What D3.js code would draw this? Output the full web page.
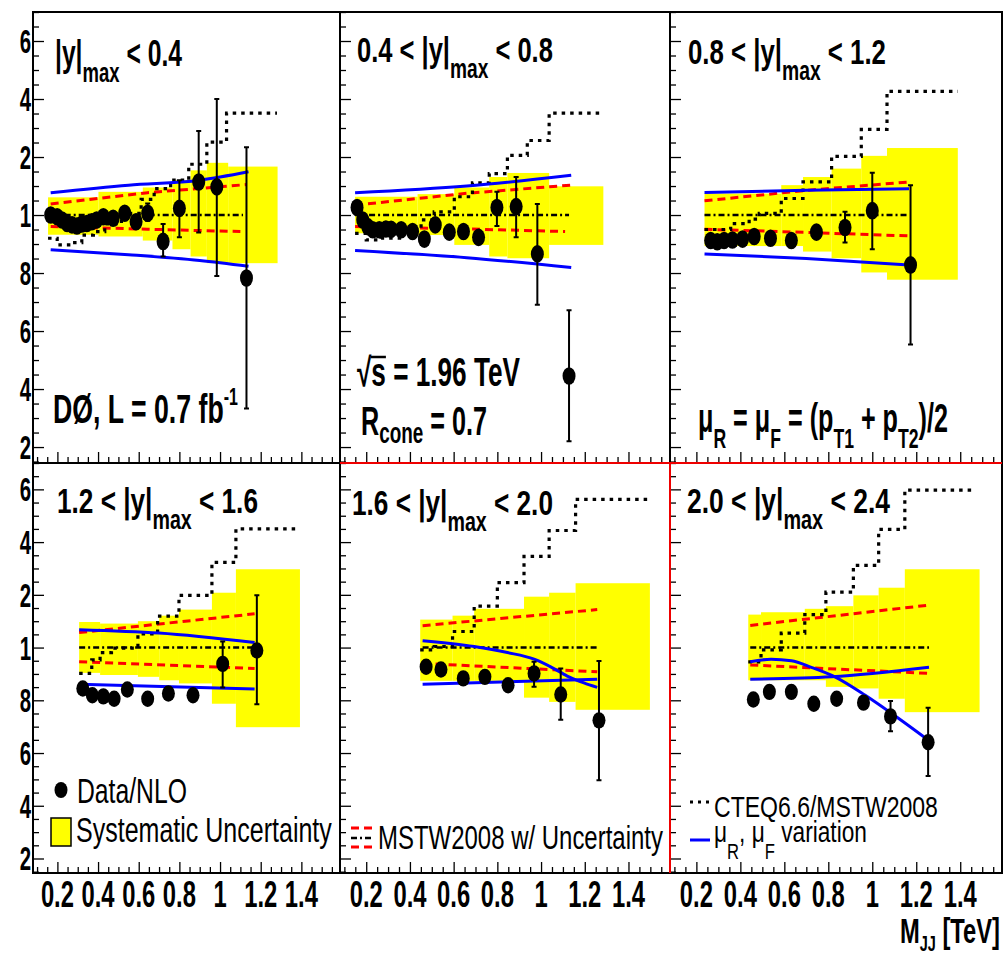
<!DOCTYPE html>
<html>
<head>
<meta charset="utf-8">
<script src="https://cdn.jsdelivr.net/npm/d3@7"></script>
<style>
body { margin: 0; background: #fff; }
svg { display: block; }
text { white-space: pre; }
</style>
</head>
<body>
<svg width="1005" height="955"></svg>
<script>
// ---- values ----
// points: [mass, data/NLO, errLow, errHigh] (no err = bar hidden under marker)
var points1 = [[0.167,1.000],[0.199,0.994],[0.223,0.983],[0.248,0.971],[0.272,0.966],[0.296,0.962],[0.320,0.969],[0.345,0.971],[0.369,0.977],[0.393,0.983],[0.426,0.994],[0.474,0.989],[0.531,1.006],[0.587,0.977],[0.644,1.006,0.98,1.04],[0.72,0.909,0.857,0.969],[0.80,1.023,0.923,1.12],[0.895,1.114,0.94,1.29],[0.984,1.097,0.79,1.40],[1.13,0.783,0.333,1.234]];
var points2 = [[0.158,1.026],[0.184,0.983],[0.207,0.96],[0.23,0.949],[0.26,0.949],[0.29,0.952],[0.314,0.951],[0.36,0.949],[0.412,0.943],[0.466,0.917],[0.516,0.966],[0.58,0.941],[0.645,0.943],[0.714,0.923],[0.798,1.026,0.962,1.08],[0.886,1.029,0.923,1.131],[0.983,0.866,0.691,1.038],[1.128,0.445,0.22,0.672]];
var points3 = [[0.265,0.912],[0.295,0.908],[0.326,0.912],[0.364,0.914],[0.41,0.917],[0.463,0.926],[0.537,0.92],[0.632,0.912],[0.746,0.941],[0.876,0.957,0.905,1.011],[1.0,1.015,0.882,1.146],[1.174,0.828,0.554,1.103]];
var points4 = [[0.325,0.845],[0.372,0.819],[0.426,0.815],[0.479,0.806],[0.544,0.841],[0.644,0.806],[0.746,0.826],[0.867,0.819],[1.013,0.938,0.849,1.023],[1.181,0.989,0.785,1.198]];
var points5 = [[0.474,0.927],[0.542,0.917],[0.644,0.883],[0.743,0.889],[0.849,0.857],[0.968,0.902,0.851,0.946],[1.09,0.822,0.726,0.921],[1.265,0.724,0.497,0.949]];
var points6 = [[0.459,0.803],[0.532,0.832],[0.632,0.832],[0.734,0.787],[0.838,0.806],[0.96,0.791],[1.083,0.739,0.683,0.797],[1.254,0.641,0.513,0.772]];

// systematic band bins: [mLow, mHigh, low, high]
var band1 = [[0.154,0.402,0.932,1.061],[0.402,0.620,0.926,1.080],[0.620,0.766,0.912,1.095],[0.766,0.855,0.882,1.120],[0.855,0.935,0.857,1.154],[0.935,1.040,0.834,1.180],[1.040,1.283,0.834,1.167]];
var band2 = [[0.149,0.435,0.937,1.063],[0.435,0.603,0.931,1.072],[0.603,0.763,0.897,1.095],[0.763,0.846,0.857,1.131],[0.846,1.037,0.851,1.145],[1.037,1.285,0.897,1.099]];
var band3 = [[0.237,0.586,0.893,1.074],[0.586,0.685,0.893,1.103],[0.685,0.815,0.874,1.131],[0.815,0.95,0.851,1.16],[0.95,1.067,0.802,1.204],[1.067,1.389,0.777,1.231]];
var band4 = [[0.307,0.41,0.904,1.097],[0.41,0.596,0.896,1.091],[0.596,0.701,0.889,1.10],[0.701,0.798,0.876,1.121],[0.798,0.96,0.864,1.144],[0.96,1.078,0.787,1.208],[1.078,1.393,0.698,1.297]];
var band5 = [[0.447,0.595,0.874,1.106],[0.595,0.694,0.874,1.121],[0.694,0.922,0.874,1.147],[0.922,1.037,0.81,1.193],[1.037,1.158,0.794,1.208],[1.158,1.498,0.764,1.244]];
var band6 = [[0.436,0.494,0.876,1.125],[0.494,0.693,0.876,1.134],[0.693,0.789,0.876,1.147],[0.789,0.914,0.851,1.157],[0.914,1.029,0.845,1.198],[1.029,1.148,0.806,1.227],[1.148,1.488,0.755,1.297]];

// CTEQ6.6/MSTW2008 step histogram: bin edges and values
var cteqEdges1 = [0.154,0.199,0.256,0.32,0.377,0.433,0.515,0.612,0.676,0.757,0.846,0.935,1.032,1.28];
var cteqVals1 = [0.92,0.897,0.905,0.931,0.943,0.969,1.006,1.054,1.091,1.12,1.175,1.251,1.351];
var cteqEdges2 = [0.149,0.2,0.268,0.36,0.451,0.511,0.603,0.686,0.763,0.846,0.937,1.037,1.285];
var cteqVals2 = [0.937,0.914,0.92,0.949,0.983,1.011,1.063,1.111,1.143,1.206,1.257,1.351];
var cteqEdges3 = [0.237,0.356,0.44,0.486,0.586,0.685,0.815,0.95,1.067,1.389];
var cteqVals3 = [0.95,0.97,0.986,1.006,1.057,1.114,1.202,1.295,1.426];
var cteqEdges4 = [0.307,0.369,0.41,0.466,0.596,0.693,0.798,0.96,1.078,1.393];
var cteqVals4 = [0.902,0.953,0.981,0.998,1.052,1.119,1.198,1.323,1.45];
var cteqEdges5 = [0.447,0.511,0.595,0.694,0.8,0.922,1.037,1.158,1.498];
var cteqVals5 = [0.991,1.004,1.061,1.157,1.246,1.346,1.444,1.562];
var cteqEdges6 = [0.436,0.494,0.586,0.693,0.789,0.914,1.029,1.148,1.469];
var cteqVals6 = [0.946,0.991,1.055,1.125,1.21,1.312,1.448,1.597];

// MSTW2008 pdf uncertainty (red dashed)
var pdfUp1 = [[0.167,1.038],[0.644,1.077],[1.13,1.105]], pdfLo1 = [[0.167,0.96],[0.644,0.951],[1.1,0.943]];
var pdfUp2 = [[0.149,1.034],[0.66,1.075],[1.138,1.103]], pdfLo2 = [[0.149,0.96],[0.66,0.952],[1.11,0.943]];
var pdfUp3 = [[0.237,1.049],[0.7,1.085],[1.167,1.114]], pdfLo3 = [[0.237,0.951],[0.7,0.94],[1.167,0.928]];
var pdfUp4 = [[0.307,1.057],[1.17,1.128]], pdfLo4 = [[0.307,0.946],[1.17,0.921]];
var pdfUp5 = [[0.458,1.083],[1.257,1.144]], pdfLo5 = [[0.458,0.94],[1.257,0.908]];
var pdfUp6 = [[0.445,1.084],[1.258,1.161]], pdfLo6 = [[0.445,0.934],[1.258,0.902]];

// mu_R, mu_F variation (blue)
var scaleA1 = [[0.167,1.077],[0.55,1.103],[0.9,1.12],[1.14,1.149]], scaleB1 = [[0.167,0.88],[0.55,0.863],[0.9,0.843],[1.14,0.823]];
var scaleA2 = [[0.149,1.077],[0.66,1.10],[1.138,1.137]], scaleB2 = [[0.149,0.878],[0.66,0.853],[1.138,0.819]];
var scaleA3 = [[0.237,1.078],[0.7,1.085],[1.167,1.091]], scaleB3 = [[0.237,0.866],[0.7,0.85],[1.167,0.828]];
var scaleA4 = [[0.307,1.068],[0.7,1.055],[1.17,1.019]], scaleB4 = [[0.307,0.861],[1.17,0.843]];
var scaleA5 = [[0.458,1.026],[0.694,1.004],[0.846,0.981],[0.968,0.956],[1.044,0.927],[1.12,0.892],[1.196,0.866],[1.257,0.849]], scaleB5 = [[0.458,0.861],[1.257,0.88]];
var scaleA6 = [[0.445,0.946],[0.54,0.956],[0.632,0.95],[0.723,0.925],[0.83,0.889],[0.968,0.819],[1.09,0.749],[1.258,0.647]], scaleB6 = [[0.445,0.88],[0.815,0.889],[1.258,0.925]];

// MSTW2008 central line at 1: mass range
var centre1 = [0.167,1.113], centre2 = [0.149,1.128], centre3 = [0.237,1.167];
var centre4 = [0.307,1.17], centre5 = [0.458,1.257], centre6 = [0.445,1.258];

var titleLow = ["", "0.4", "0.8", "1.2", "1.6", "2.0"];
var titleHigh = ["0.4", "0.8", "1.2", "1.6", "2.0", "2.4"];
var xTickVals = [0.2, 0.4, 0.6, 0.8, 1, 1.2, 1.4];
var yTickVals = [0.2, 0.4, 0.6, 0.8, 1, 1.2, 1.4, 1.6];

var panels = [
  {pts: points1, band: band1, ce: cteqEdges1, cv: cteqVals1, pu: pdfUp1, pl: pdfLo1, sa: scaleA1, sb: scaleB1, c: centre1},
  {pts: points2, band: band2, ce: cteqEdges2, cv: cteqVals2, pu: pdfUp2, pl: pdfLo2, sa: scaleA2, sb: scaleB2, c: centre2},
  {pts: points3, band: band3, ce: cteqEdges3, cv: cteqVals3, pu: pdfUp3, pl: pdfLo3, sa: scaleA3, sb: scaleB3, c: centre3},
  {pts: points4, band: band4, ce: cteqEdges4, cv: cteqVals4, pu: pdfUp4, pl: pdfLo4, sa: scaleA4, sb: scaleB4, c: centre4},
  {pts: points5, band: band5, ce: cteqEdges5, cv: cteqVals5, pu: pdfUp5, pl: pdfLo5, sa: scaleA5, sb: scaleB5, c: centre5},
  {pts: points6, band: band6, ce: cteqEdges6, cv: cteqVals6, pu: pdfUp6, pl: pdfLo6, sa: scaleA6, sb: scaleB6, c: centre6}
];

var svg = d3.select("svg"),
  FONT = "'Liberation Sans', Arial, Helvetica, sans-serif",
  colEdges = [[33, 340], [340, 670], [670, 1002]],
  rowEdges = [[12, 463], [463, 873]],
  massDomain = [0.08, 1.59],
  ratioDomain = [0.145, 1.70];

// text with sub/superscripts, squeezed horizontally to a given width
// parts: [text, size, dy]
function richText(g, x, y, parts, size, width, weight) {
  var t = g.append("text")
    .attr("font-family", FONT)
    .attr("font-size", size)
    .attr("font-weight", weight || "bold");
  var shift = 0;
  parts.forEach(function(p) {
    var s = t.append("tspan").text(p[0]);
    var want = p[1] ? p[2] : 0;
    if (p[1]) s.attr("font-size", p[1]);
    s.attr("dy", want - shift);
    shift = want;
  });
  var w = t.node().getComputedTextLength();
  t.attr("transform", "translate(" + x + "," + y + ") scale(" + (width / w) + ",1)");
  return t;
}

function squeezed(g, x, y, str, size, k, anchor) {
  return g.append("text")
    .attr("font-family", FONT)
    .attr("font-size", size)
    .attr("font-weight", "bold")
    .attr("text-anchor", anchor)
    .attr("transform", "translate(" + x + "," + y + ") scale(" + k + ",1)")
    .text(str);
}

// the left edge of the original picture cuts the y labels down to their last digit
function lastDigit(v) {
  var s = v === 1 ? "1" : d3.format(".1f")(v);
  return s.slice(-1);
}

var yMinor = d3.range(3, 35).filter(function(i) { return i % 4; }).map(function(i) { return i * 0.05; });
var xMinor = d3.range(2, 32).filter(function(i) { return i % 4; }).map(function(i) { return i * 0.05; });

panels.forEach(function(p, i) {
  var col = i % 3, row = Math.floor(i / 3),
    x0 = colEdges[col][0], x1 = colEdges[col][1],
    y0 = rowEdges[row][0], y1 = rowEdges[row][1];
  var x = d3.scaleLinear().domain(massDomain).range([x0, x1]),
    y = d3.scaleLinear().domain(ratioDomain).range([y1, y0]);

  var g = svg.append("g");
  g.append("clipPath").attr("id", "clip" + i)
    .append("rect").attr("x", x0).attr("y", y0).attr("width", x1 - x0).attr("height", y1 - y0);
  var plot = g.append("g").attr("clip-path", "url(#clip" + i + ")");

  // systematic uncertainty band
  plot.selectAll(".band").data(p.band).enter().append("rect")
    .attr("x", function(d) { return x(d[0]); })
    .attr("width", function(d) { return x(d[1]) - x(d[0]); })
    .attr("y", function(d) { return y(d[3]); })
    .attr("height", function(d) { return y(d[2]) - y(d[3]); })
    .attr("fill", "#ffff00");

  var line = d3.line().x(function(d) { return x(d[0]); }).y(function(d) { return y(d[1]); });

  // red pdf uncertainty
  [p.pu, p.pl].forEach(function(l) {
    plot.append("path").attr("d", line(l)).attr("fill", "none")
      .attr("stroke", "#ff0000").attr("stroke-width", 3).attr("stroke-dasharray", "8,5");
  });

  // central mstw line at 1
  plot.append("path").attr("d", line([[p.c[0], 1], [p.c[1], 1]])).attr("fill", "none")
    .attr("stroke", "#000").attr("stroke-width", 2.5).attr("stroke-dasharray", "6,3,2,3");

  // cteq step histogram
  var steps = p.ce.map(function(e, j) { return [e, p.cv[Math.min(j, p.cv.length - 1)]]; });
  plot.append("path").attr("d", line.curve(d3.curveStepAfter)(steps)).attr("fill", "none")
    .attr("stroke", "#000").attr("stroke-width", 3.2).attr("stroke-dasharray", "3.5,5");
  line.curve(d3.curveLinear);

  // blue scale variation
  var smooth = d3.line().curve(d3.curveMonotoneX)
    .x(function(d) { return x(d[0]); }).y(function(d) { return y(d[1]); });
  [p.sa, p.sb].forEach(function(l) {
    plot.append("path").attr("d", smooth(l)).attr("fill", "none")
      .attr("stroke", "#0000ff").attr("stroke-width", 3);
  });

  // data with error bars
  var errs = p.pts.filter(function(d) { return d.length > 2; });
  plot.selectAll(".err").data(errs).enter().append("path")
    .attr("d", function(d) {
      var cx = x(d[0]), lo = y(d[2]), hi = y(d[3]);
      return "M" + cx + "," + lo + "V" + hi + "M" + (cx - 2.5) + "," + hi + "H" + (cx + 2.5) +
        "M" + (cx - 2.5) + "," + lo + "H" + (cx + 2.5);
    })
    .attr("stroke", "#000").attr("stroke-width", 2).attr("fill", "none");
  plot.selectAll(".pt").data(p.pts).enter().append("ellipse")
    .attr("cx", function(d) { return x(d[0]); })
    .attr("cy", function(d) { return y(d[1]); })
    .attr("rx", 6.5).attr("ry", row ? 8.2 : 8.8)
    .attr("fill", "#000");

  // ticks pointing inwards
  var ax = g.append("g").attr("transform", "translate(" + x0 + ",0)");
  ax.call(d3.axisLeft(y).tickValues(yTickVals).tickSize(-11).tickFormat(""));
  ax.append("g").call(d3.axisLeft(y).tickValues(yMinor).tickSize(-6).tickFormat(""));
  var bx = g.append("g").attr("transform", "translate(0," + y1 + ")");
  bx.call(d3.axisBottom(x).tickValues(xTickVals).tickSize(-11).tickFormat(""));
  bx.append("g").call(d3.axisBottom(x).tickValues(xMinor).tickSize(-6).tickFormat(""));
  g.selectAll(".domain").remove();
  g.selectAll(".tick line").attr("stroke", "#000").attr("stroke-width", 1.3);

  // frame
  g.append("rect").attr("x", x0).attr("y", y0).attr("width", x1 - x0).attr("height", y1 - y0)
    .attr("fill", "none").attr("stroke", "#000").attr("stroke-width", 2);

  // labels
  if (col === 0) {
    yTickVals.forEach(function(v) {
      squeezed(svg, 31, y(v) + 12, lastDigit(v), 34, 0.6, "end");
    });
  }
  if (row === 1) {
    xTickVals.forEach(function(v) {
      squeezed(svg, x(v), 907, d3.format("")(v), 36, 0.66, "middle");
    });
  }
});

// red highlight of the selected pad
svg.append("path").attr("d", "M340,463H1002M670,463V873")
  .attr("stroke", "#ee0000").attr("stroke-width", 2).attr("fill", "none");

// panel titles
var titlePos = [[55, 66, 127], [357, 62, 196], [688, 64, 198], [57, 513, 201], [352, 515, 201], [687, 513, 203]];
titlePos.forEach(function(t, i) {
  var head = titleLow[i] ? titleLow[i] + " < |y|" : "|y|";
  richText(svg, t[0], t[1], [[head], ["max", 27, 16], [" < " + titleHigh[i]]], 36, t[2]);
});

// annotations
richText(svg, 53, 423, [["DØ, L = 0.7 fb"], ["-1", 24, -18]], 40, 185);
var rs = richText(svg, 357, 386, [["√s = 1.96 TeV"]], 40, 163);
// bar over the s of the root sign
var sBox = rs.node().getExtentOfChar(1);
svg.append("path").attr("transform", rs.attr("transform"))
  .attr("d", "M" + (sBox.x - 1) + "," + (-29) + "H" + (sBox.x + sBox.width))
  .attr("stroke", "#000").attr("stroke-width", 2.5);
richText(svg, 361, 435, [["R"], ["cone", 30, 8], [" = 0.7"]], 40, 126);
richText(svg, 698, 432, [["μ"], ["R", 28, 16], [" = μ"], ["F", 28, 16], [" = (p"], ["T1", 28, 16], [" + p"], ["T2", 28, 16], [")/2"]], 40, 250);

// legends
svg.append("ellipse").attr("cx", 61).attr("cy", 790).attr("rx", 6.5).attr("ry", 8).attr("fill", "#000");
richText(svg, 77, 803, [["Data/NLO"]], 35, 110, "normal");
svg.append("rect").attr("x", 51).attr("y", 818).attr("width", 20).attr("height", 28)
  .attr("fill", "#ffff00").attr("stroke", "#000").attr("stroke-width", 1.5);
richText(svg, 76, 842, [["Systematic Uncertainty"]], 35, 256, "normal");

[828, 847].forEach(function(yy) {
  svg.append("path").attr("d", "M351," + yy + "H372").attr("stroke", "#ff0000")
    .attr("stroke-width", 3).attr("stroke-dasharray", "8,5");
});
svg.append("path").attr("d", "M351,838H372").attr("stroke", "#000")
  .attr("stroke-width", 2.5).attr("stroke-dasharray", "6,3,2,3");
richText(svg, 378, 849, [["MSTW2008 w/ Uncertainty"]], 34, 285, "normal");

svg.append("path").attr("d", "M690,802H711").attr("stroke", "#000")
  .attr("stroke-width", 3).attr("stroke-dasharray", "3,5");
richText(svg, 714, 817, [["CTEQ6.6/MSTW2008"]], 30, 224, "normal");
svg.append("path").attr("d", "M690,840H710").attr("stroke", "#0000ff").attr("stroke-width", 3);
richText(svg, 714, 842, [["μ"], ["R", 22, 17], [", μ"], ["F", 22, 17], [" variation"]], 30, 153, "normal");

// axis title
richText(svg, 900, 943, [["M"], ["JJ", 22, 8], [" [TeV]"]], 36, 100);
</script>
</body>
</html>
